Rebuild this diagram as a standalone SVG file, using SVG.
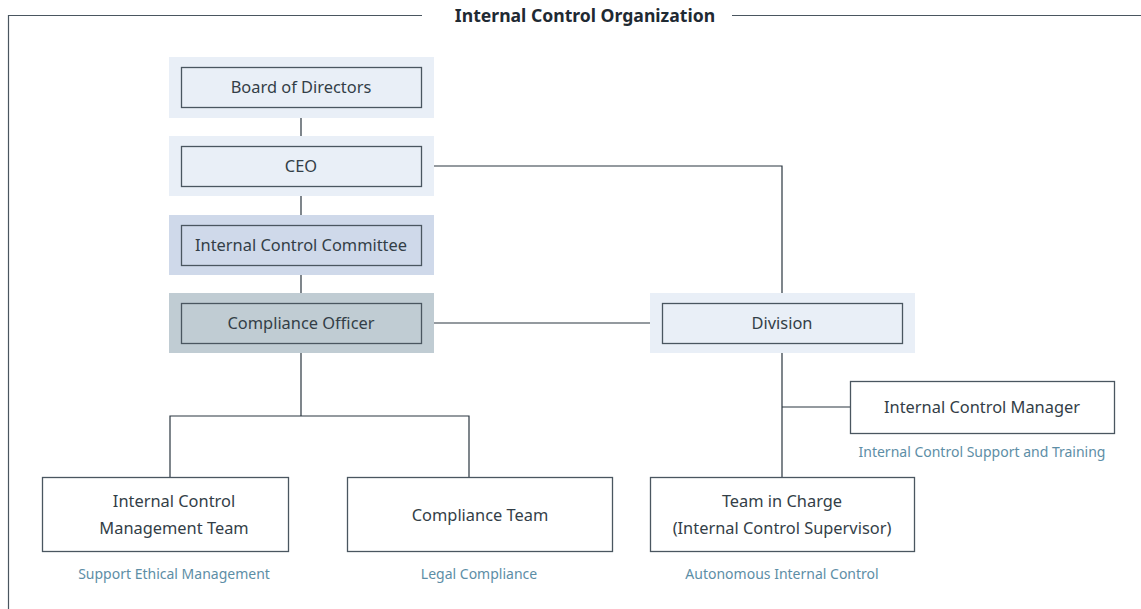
<svg xmlns="http://www.w3.org/2000/svg" width="1141" height="609" viewBox="0 0 1141 609">
<style>
.bg1{fill:#e9eff7}
.bg2{fill:#cfd9ea}
.bg3{fill:#c0ccd3}
.box{stroke:#4a5660;stroke-width:1.3}
.wbox{fill:#fff;stroke:#4a5660;stroke-width:1.3}
.t{font-family:"Noto Sans","Open Sans",sans-serif;font-size:16.4px;fill:#333e47;text-anchor:middle}
.c{font-family:"Noto Sans","Open Sans",sans-serif;font-size:14px;fill:#5d8ea6;text-anchor:middle}
.title{font-family:"Noto Sans","Open Sans",sans-serif;font-size:17.6px;font-weight:bold;fill:#1f2a33;text-anchor:middle}
.ln{stroke:#2a3640;stroke-width:1.2;fill:none}
.fr{stroke:#4a5660;stroke-width:1.2;fill:none}
</style>
<g id="frame">
<path class="fr" d="M422 15.5 H8.5 V609 M732 15.5 H1141"/>
<text class="title" x="585" y="22">Internal Control Organization</text>
</g>
<g id="connectors">
<path class="ln" d="M301 118 V136 M301 196 V215 M301 275 V293"/>
<path class="ln" d="M421 166 H782 V293"/>
<path class="ln" d="M421 323 H662"/>
<path class="ln" d="M301 353 V416 M170 477 V416 H469 V477"/>
<path class="ln" d="M782 353 V477 M782 407 H850"/>
</g>
<g id="board">
<rect class="bg1" x="169" y="57" width="265" height="61"/>
<rect class="bg1 box" x="181.5" y="67.5" width="240" height="40"/>
<text class="t" x="301" y="93">Board of Directors</text>
</g>
<g id="ceo">
<rect class="bg1" x="169" y="136" width="265" height="60"/>
<rect class="bg1 box" x="181.5" y="146.5" width="240" height="40"/>
<text class="t" x="301" y="172">CEO</text>
</g>
<g id="committee">
<rect class="bg2" x="169" y="215" width="265" height="60"/>
<rect class="bg2 box" x="181.5" y="225.5" width="240" height="40"/>
<text class="t" x="301" y="251">Internal Control Committee</text>
</g>
<g id="officer">
<rect class="bg3" x="169" y="293" width="265" height="60"/>
<rect class="bg3 box" x="181.5" y="303.5" width="240" height="40"/>
<text class="t" x="301" y="329">Compliance Officer</text>
</g>
<g id="division">
<rect class="bg1" x="650" y="293" width="265" height="60"/>
<rect class="bg1 box" x="662.5" y="303.5" width="240" height="40"/>
<text class="t" x="782" y="329">Division</text>
</g>
<g id="manager">
<rect class="wbox" x="850.5" y="381.5" width="264" height="52"/>
<text class="t" x="982" y="413">Internal Control Manager</text>
<text class="c" x="982" y="457">Internal Control Support and Training</text>
</g>
<g id="mgmtTeam">
<rect class="wbox" x="42.5" y="477.5" width="246" height="74"/>
<text class="t" x="174" y="507">Internal Control</text>
<text class="t" x="174" y="534">Management Team</text>
<text class="c" x="174" y="579">Support Ethical Management</text>
</g>
<g id="complianceTeam">
<rect class="wbox" x="347.5" y="477.5" width="265" height="74"/>
<text class="t" x="480" y="521">Compliance Team</text>
<text class="c" x="479" y="579">Legal Compliance</text>
</g>
<g id="teamInCharge">
<rect class="wbox" x="650.5" y="477.5" width="264" height="74"/>
<text class="t" x="782" y="507">Team in Charge</text>
<text class="t" x="782" y="534">(Internal Control Supervisor)</text>
<text class="c" x="782" y="579">Autonomous Internal Control</text>
</g>
</svg>
